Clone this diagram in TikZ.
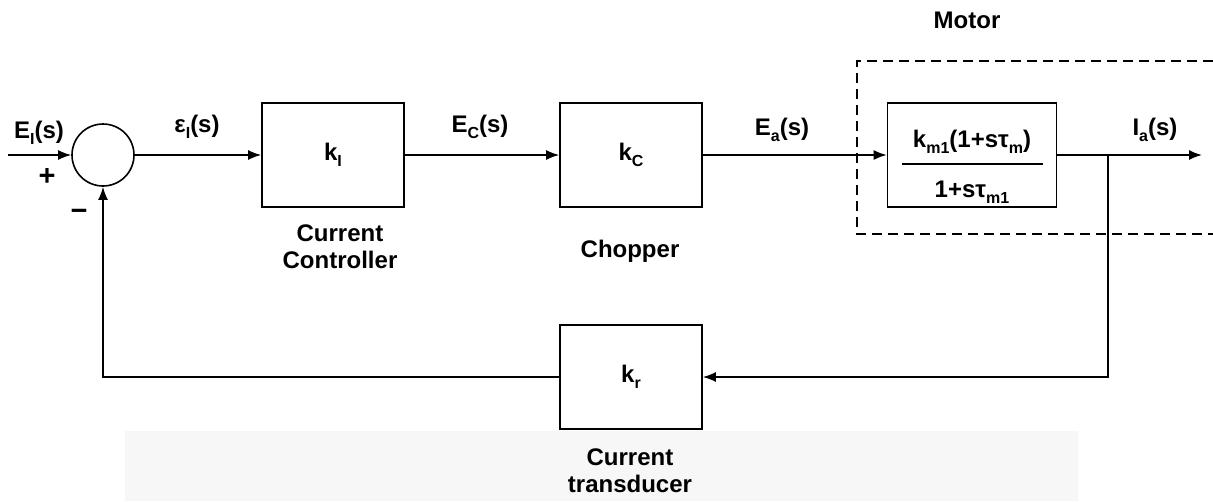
\documentclass[tikz,border=0pt]{standalone}
\usepackage{fontspec}
\setmainfont{Liberation Sans}
\usetikzlibrary{arrows.meta,positioning}
\newcommand{\lo}[1]{\raisebox{-6pt}{\fontsize{16}{16}\selectfont #1}}

\begin{document}
\begin{tikzpicture}[
  x=1pt, y=-1pt,
  lbl/.style={
    font=\fontsize{24}{27}\selectfont\bfseries,
    inner sep=0pt,
    align=center
  },
  sign/.style={
    lbl,
    font=\fontsize{29}{29}\selectfont\bfseries
  },
  block/.style={
    lbl,
    draw,
    line width=1.6pt,
    minimum width=142pt,
    minimum height=104pt
  },
  sumnode/.style={
    draw,
    circle,
    line width=1.6pt,
    minimum size=62pt,
    inner sep=0pt
  },
  sig/.style={
    -{Latex[length=13pt,width=10pt]},
    line width=1.6pt
  },
  wire/.style={line width=1.6pt},
  zone/.style={dash pattern=on 10pt off 6pt, line width=1.6pt}
]
\useasboundingbox (0,0) rectangle (1213,501);

% faint band of the scan
\fill[black!3] (125,431) rectangle (1078,501);

% Forward path
\node[sumnode] (sum) at (103,155) {};
\node[block] (ctrl) at (333,155) {k\lo{I}};
\node[block] (chop) at (631,155) {k\lo{C}};
\node[block, minimum width=169pt] (motor) at (972,155) {};

% Motor transfer function
\node[lbl, anchor=base] (num) at (972,147) {k\lo{m1}(1+sτ\lo{m})};
\node[lbl, anchor=base] (den) at (972,197) {1+sτ\lo{m1}};
\draw[wire] (902,164) -- (1043,164);

% Motor region
\draw[zone] (1213,61) -- (857,61) -- (857,234) -- (1213,234);

% Feedback path
\node[block] (trans) at (631,377) {k\lo{r}};

\coordinate (in) at (8,155);
\coordinate (out) at (1202,155);
\coordinate (tap) at (1108,155);

\draw[sig] (in) -- (sum);
\draw[sig] (sum) -- (ctrl);
\draw[sig] (ctrl) -- (chop);
\draw[sig] (chop) -- (motor);
\draw[sig] (motor) -- (out);
\draw[sig] (tap) |- (trans);
\draw[sig] (trans) -| (sum);

% Signal labels
\node[lbl, anchor=base] (ein) at (39,138) {E\lo{I}(s)};
\node[lbl, anchor=base] (err) at (197,132) {ε\lo{I}(s)};
\node[lbl, anchor=base] (ec) at (480,132) {E\lo{C}(s)};
\node[lbl, anchor=base] (ea) at (782,135) {E\lo{a}(s)};
\node[lbl, anchor=base] (ia) at (1155,135) {I\lo{a}(s)};
\node[sign] (plus) at (47,177) {+};
\node[sign] (minus) at (79,215) {−};

% Block captions
\node[lbl, anchor=base] (motorcap) at (967,28) {Motor};
\node[lbl, anchor=north] (ctrlcap) at (340,225) {Current\\Controller};
\node[lbl, anchor=base] (chopcap) at (630,257) {Chopper};
\node[lbl, anchor=north] (transcap) at (630,449) {Current\\transducer};

\end{tikzpicture}
\end{document}
